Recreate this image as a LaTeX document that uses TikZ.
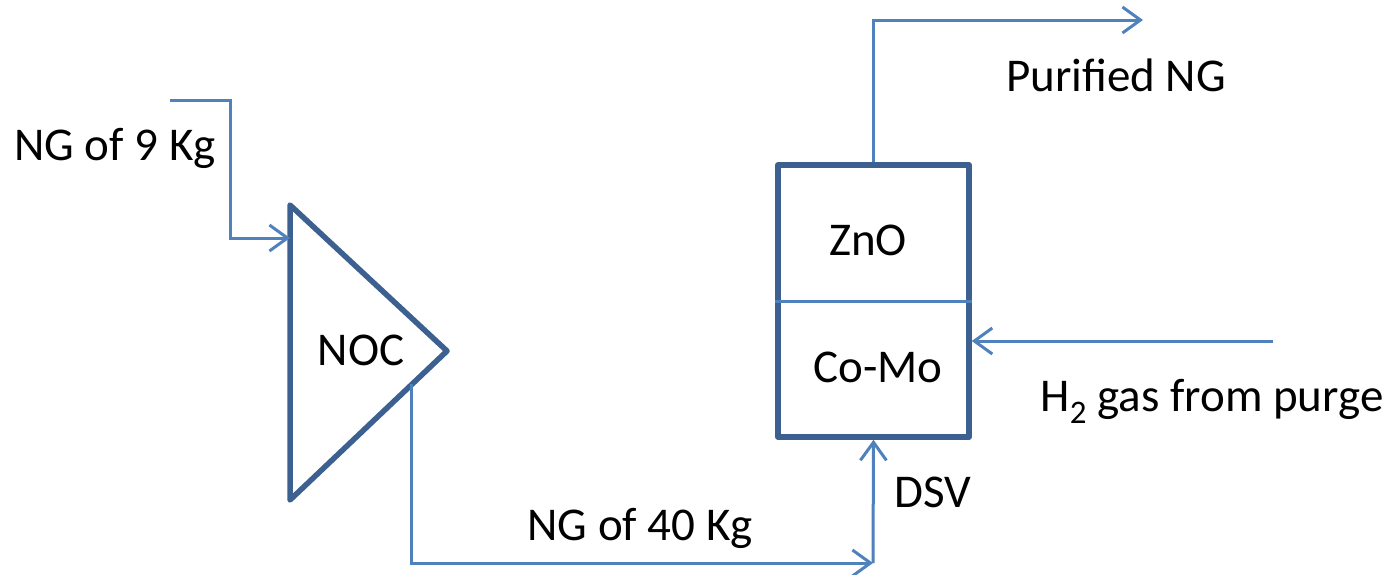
\documentclass[tikz,border=0pt]{standalone}
\usepackage{fontspec}
\setmainfont{Carlito}
\usetikzlibrary{arrows.meta,calc}
\definecolor{unitblue}{HTML}{3C6090}
\definecolor{flowblue}{HTML}{4F81BD}
\tikzset{
  unit/.style={draw=unitblue, line width=5.5pt, line join=round},
  flowline/.style={draw=flowblue, line width=3pt},
  flow/.style={flowline, -{Straight Barb[length=18pt,width=26pt,line width=3pt]}},
  lbl/.style={font=\fontsize{47}{56}\selectfont, inner sep=0pt, anchor=base}
}
\begin{document}
\begin{tikzpicture}[x=1pt,y=-1pt]
    \useasboundingbox (0,0) rectangle (1397,574);

    % Compressor
    \draw[unit] (290,205) coordinate (nocA) -- (447,351) coordinate (nocB)
        -- (290,500) coordinate (nocC) -- cycle;
    \node[lbl] (noc) at (361,365) {NOC};

    % Desulphurisation vessel
    \node[unit, minimum width=191pt, minimum height=272pt, inner sep=0pt] (dsv) at (873.5,301) {};
    \draw[flowline] (dsv.west) -- (dsv.east);
    \node[lbl] (zno) at (868,255) {ZnO};
    \node[lbl] (como) at (878,382) {Co-Mo};

    % Streams
    \coordinate (feed) at (170,100);
    \coordinate (feedIn) at (230,238);
    \draw[flow] (feed) -| (feedIn) -- (nocA |- feedIn);
    \node[lbl] (feedLbl) at (115,160) {NG of 9 Kg};

    \coordinate (nocOut) at ($(nocB)!0.223!(nocC)$);
    \coordinate (bend) at (873,563);
    \draw[flow] (nocOut) |- (bend);
    \draw[flow] (bend) -- (dsv.south);
    \node[lbl] (midLbl) at (640,540) {NG of 40 Kg};
    \node[lbl] (dsvLbl) at (933,507) {DSV};

    \coordinate (product) at (1143,20);
    \draw[flow] (dsv.north) |- (product);
    \node[lbl] (productLbl) at (1116,91) {Purified NG};

    \coordinate (purge) at (1273,341);
    \draw[flow] (purge) -- (dsv.east |- purge);
    \node[lbl] (purgeLbl) at (1212,411) {H\textsubscript{2} gas from purge};
\end{tikzpicture}
\end{document}
